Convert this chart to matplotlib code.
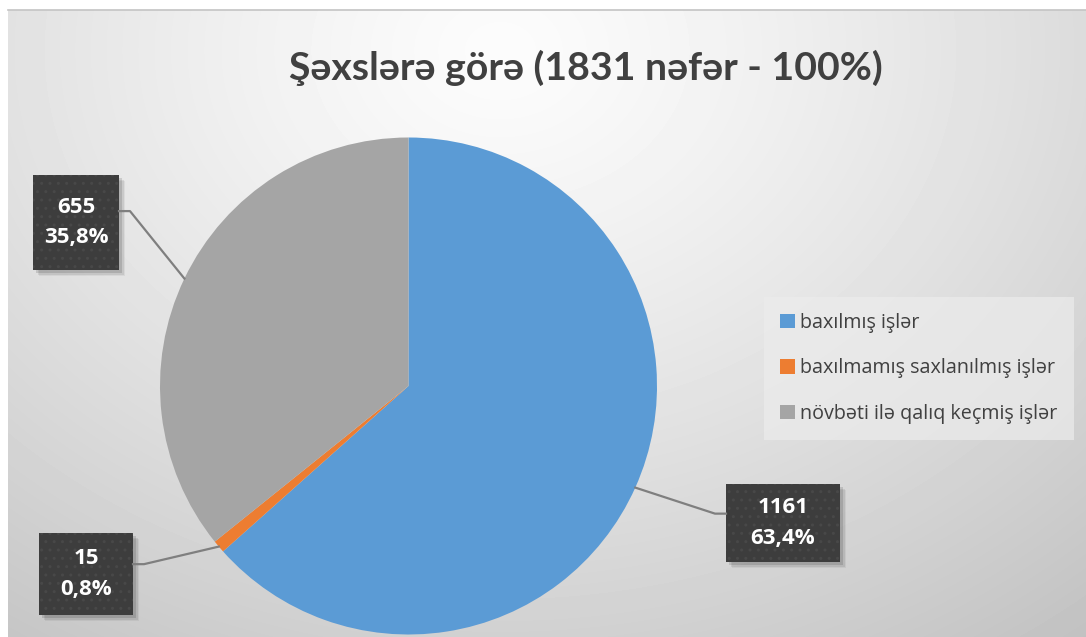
import matplotlib.pyplot as plt
import numpy as np
from matplotlib.patches import Rectangle
from matplotlib.lines import Line2D

plt.rcParams['font.family'] = ['Lato', 'DejaVu Sans']

title = "Şəxslərə görə (1831 nəfər - 100%)"
labels = ["baxılmış işlər", "baxılmamış saxlanılmış işlər", "növbəti ilə qalıq keçmiş işlər"]
counts = [1161, 15, 655]
shares = ["63,4%", "0,8%", "35,8%"]
colors = ["#5B9BD5", "#ED7D31", "#A5A5A5"]

W, H = 1086, 637
fig = plt.figure(figsize=(W / 100, H / 100), dpi=100)
fig.patch.set_facecolor("white")


def fx(x):
    return x / W


def fy(y):
    return 1 - y / H


# gradient background of the chart area
bg = fig.add_axes([fx(8), 0, fx(W - 8), 1 - 10 / H])
bg.axis("off")
yy, xx = np.mgrid[10:H, 8:W]
d = np.hypot((xx - 500) / 1.25, yy - 50) / 700
shade = (252 - 54 * np.clip(d, 0, 1.3) ** 1.25) / 255
bg.imshow(shade, cmap="gray", vmin=0, vmax=1, aspect="auto",
          extent=[0, 1, 0, 1], origin="upper", interpolation="bilinear")
fig.add_artist(Line2D([fx(8), 1], [fy(10), fy(10)], transform=fig.transFigure,
                      color="#c4c4c4", lw=1.2))

# pie
cx, cy, r = 408.5, 386, 248.5
ax = fig.add_axes([fx(cx - r), fy(cy + r), fx(2 * r), 2 * r / H])
wedges = ax.pie(counts, colors=colors, startangle=90, counterclock=False,
                wedgeprops=dict(linewidth=0))[0]
ax.set_xlim(-1, 1)
ax.set_ylim(-1, 1)
ax.set_aspect("equal")
ax.axis("off")

# label boxes: (left, top, width, height) in px, side of leader line
boxes = [(726, 484, 114, 78, "left"),
         (39, 533, 94, 82, "right"),
         (33, 175, 86, 95, "right")]

to_fig = fig.transFigure.inverted()
for w, cnt, sh, (bx, by, bw, bh, side) in zip(wedges, counts, shares, boxes):
    mid = np.deg2rad((w.theta1 + w.theta2) / 2)
    px, py = ax.transData.transform((np.cos(mid), np.sin(mid)))
    pfx, pfy = to_fig.transform((px, py))
    ay = by + bh * 0.38
    if side == "left":
        ax0, el = bx, bx - 11
    else:
        ax0, el = bx + bw, bx + bw + 11
    fig.add_artist(Line2D([pfx, fx(el), fx(ax0)], [pfy, fy(ay), fy(ay)],
                          transform=fig.transFigure, color="#7f7f7f", lw=1.6))
    for k, a in [(6, 0.05), (4.5, 0.08), (3, 0.12)]:
        fig.add_artist(Rectangle((fx(bx + k), fy(by + bh + k)), fx(bw), bh / H,
                                 transform=fig.transFigure, facecolor="black",
                                 alpha=a, lw=0))
    fig.add_artist(Rectangle((fx(bx), fy(by + bh)), fx(bw), bh / H,
                             transform=fig.transFigure, facecolor="#3d3d3d",
                             edgecolor="#484848", hatch="..", lw=0))
    fig.text(fx(bx + bw / 2), fy(by + bh / 2), f"{cnt}\n{sh}", ha="center",
             va="center", color="white", fontsize=16, fontweight="bold",
             family=["Open Sans", "DejaVu Sans"], linespacing=1.6)

fig.text(fx(586), fy(68), title, ha="center", va="center", fontsize=28.3,
         fontweight="bold", color="#404040")

leg = fig.legend(wedges, labels, loc="upper left",
                 bbox_to_anchor=(fx(764), fy(297)), frameon=True,
                 facecolor="#ececec", edgecolor="none", framealpha=0.7,
                 fancybox=False, labelcolor="#404040",
                 prop={"family": ["Open Sans", "DejaVu Sans"], "size": 14.2},
                 handlelength=0.75, handleheight=0.75, handletextpad=0.3,
                 labelspacing=1.3, borderpad=0.8, borderaxespad=0)

fig.savefig("out.png", dpi=100)
